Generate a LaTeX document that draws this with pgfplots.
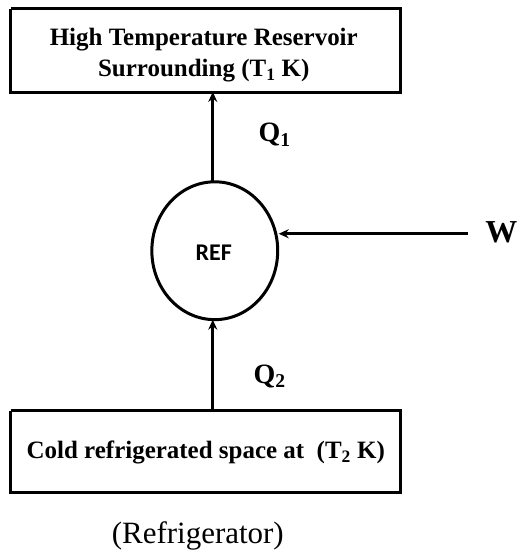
\documentclass[border=0pt]{standalone}
\usepackage{pgfplots}
\pgfplotsset{compat=1.18}
\usepackage{fontspec}
\setmainfont{Liberation Serif}
\newfontfamily\carlito{Carlito}
\usetikzlibrary{arrows.meta}
\begin{document}
\begin{tikzpicture}
\begin{axis}[
  width=521pt, height=554pt, scale only axis,
  xmin=0, xmax=521, ymin=0, ymax=554,
  axis lines=none, clip=false,
]
\path (axis cs:0,0) rectangle (axis cs:521,554);
% top box
\addplot[black, line width=3pt, line join=miter] coordinates {(11,545) (401,545) (401,461) (11,461) (11,545)};
% bottom box
\addplot[black, line width=3pt, line join=miter] coordinates {(11,143) (401,143) (401,61) (11,61) (11,143)};
% Q1 arrow
\addplot[black, line width=3pt, -{Stealth[length=10pt,width=9pt]}] coordinates {(213,371) (213,462)};
% Q2 arrow
\addplot[black, line width=3pt, -{Stealth[length=10pt,width=9pt]}] coordinates {(213,143) (213,234)};
% W arrow
\addplot[black, line width=3pt, -{Stealth[length=10pt,width=9pt]}] coordinates {(468,320) (279,320)};
% circle
\draw[black, line width=3pt] (axis cs:215,303) ellipse [x radius=63pt, y radius=69pt];
\node[font=\fontsize{25}{27}\selectfont\bfseries] at (axis cs:204,514) {High Temperature Reservoir};
\node[font=\fontsize{25}{27}\selectfont\bfseries] at (axis cs:204,483) {Surrounding (T\textsubscript{1} K)};
\node[font=\fontsize{25}{27}\selectfont\bfseries] at (axis cs:206,101) {Cold refrigerated space at\ \ (T\textsubscript{2} K)};
\node[font=\fontsize{28}{30}\selectfont\bfseries] at (axis cs:275,419) {Q\textsubscript{1}};
\node[font=\fontsize{28}{30}\selectfont\bfseries] at (axis cs:270,177) {Q\textsubscript{2}};
\node[font=\fontsize{32}{34}\selectfont\bfseries] at (axis cs:502,321) {W};
\node[font=\carlito\fontsize{24}{26}\selectfont\bfseries] at (axis cs:214,301) {REF};
\node[font=\fontsize{31}{34}\selectfont] at (axis cs:198,17) {(Refrigerator)};
\end{axis}
\end{tikzpicture}
\end{document}
